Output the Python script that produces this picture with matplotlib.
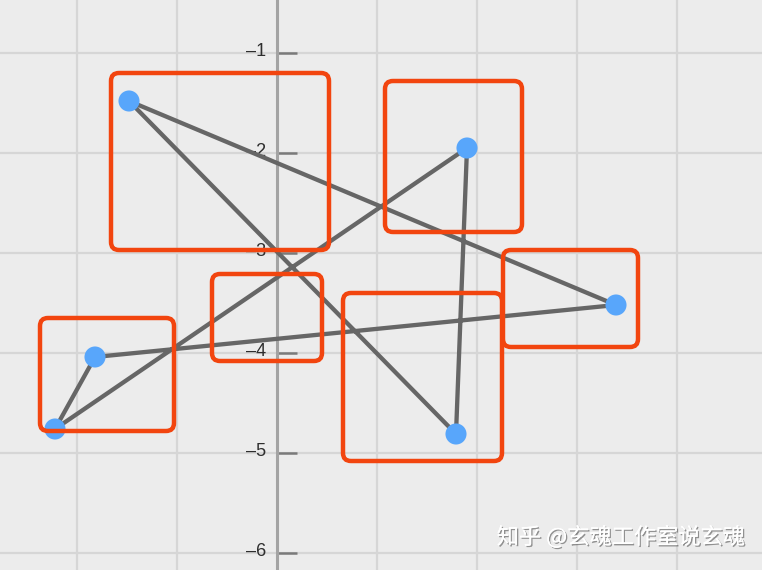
import matplotlib
matplotlib.use('Agg')
import matplotlib.pyplot as plt
import matplotlib.patheffects as pe
import matplotlib.transforms as mtransforms
from matplotlib.patches import FancyBboxPatch

# closed path through the six points (in drawing order)
xs = [-1.48, 1.79, 1.90, -2.22, -1.82, 3.39]
ys = [-1.48, -4.81, -1.95, -4.76, -4.04, -3.52]

# highlight boxes: (x0, y0, x1, y1)
boxes = [
    (-1.66, -2.97, 0.52, -1.20),
    (1.08, -2.79, 2.45, -1.28),
    (2.26, -3.94, 3.61, -2.97),
    (-0.65, -4.08, 0.45, -3.21),
    (-2.37, -4.78, -1.03, -3.65),
    (0.66, -5.08, 2.25, -3.40),
]

y_ticks = [-1, -2, -3, -4, -5, -6]
x_grid = [-2, -1, 1, 2, 3, 4]

fig = plt.figure(figsize=(7.62, 5.70), dpi=100)
fig.patch.set_facecolor('#ececec')
ax = fig.add_axes([0, 0, 1, 1])
ax.set_facecolor('#ececec')
ax.set_xlim(-2.77, 4.85)
ax.set_ylim(-6.17, -0.47)

for x in x_grid:
    ax.axvline(x, color='#d6d6d6', lw=1.6, zorder=0)
for y in y_ticks:
    ax.axhline(y, color='#d6d6d6', lw=1.6, zorder=0)

# y axis through x = 0
for s in ['top', 'right', 'bottom']:
    ax.spines[s].set_visible(False)
ax.spines['left'].set_position(('data', 0))
ax.spines['left'].set_color('#a3a3a3')
ax.spines['left'].set_linewidth(2.2)
ax.set_xticks([])
ax.set_yticks(y_ticks)
ax.set_yticklabels(['\u2013%d' % abs(v) for v in y_ticks])
ax.tick_params(axis='y', direction='in', length=14.5, width=1.8, color='#7a7a7a',
               labelsize=13, labelcolor='#2e2e2e', pad=8)
for lab in ax.get_yticklabels():
    lab.set_fontfamily('Liberation Sans')
    lab.set_transform(lab.get_transform() +
                      mtransforms.ScaledTranslation(0, 4 / 100, fig.dpi_scale_trans))

ax.plot(xs + xs[:1], ys + ys[:1], color='#666666', lw=3.1, solid_capstyle='round', zorder=3)
ax.scatter(xs, ys, s=230, color='#58a6fb', edgecolors='none', zorder=4)

for x0, y0, x1, y1 in boxes:
    ax.add_patch(FancyBboxPatch((x0, y0), x1 - x0, y1 - y0,
                                boxstyle='round,pad=0,rounding_size=0.08',
                                fill=False, edgecolor='#f2450f', lw=3.2, zorder=5))

fig.text(0.978, 0.058, '知乎 @玄魂工作室说玄魂', ha='right', va='center',
         fontsize=16, color='white', family=['Noto Sans CJK SC', 'DejaVu Sans'],
         path_effects=[pe.withSimplePatchShadow(offset=(1, -1), shadow_rgbFace='#555555', alpha=0.6),
                       pe.Normal()])

fig.savefig('out.png', dpi=100, facecolor=fig.get_facecolor())
